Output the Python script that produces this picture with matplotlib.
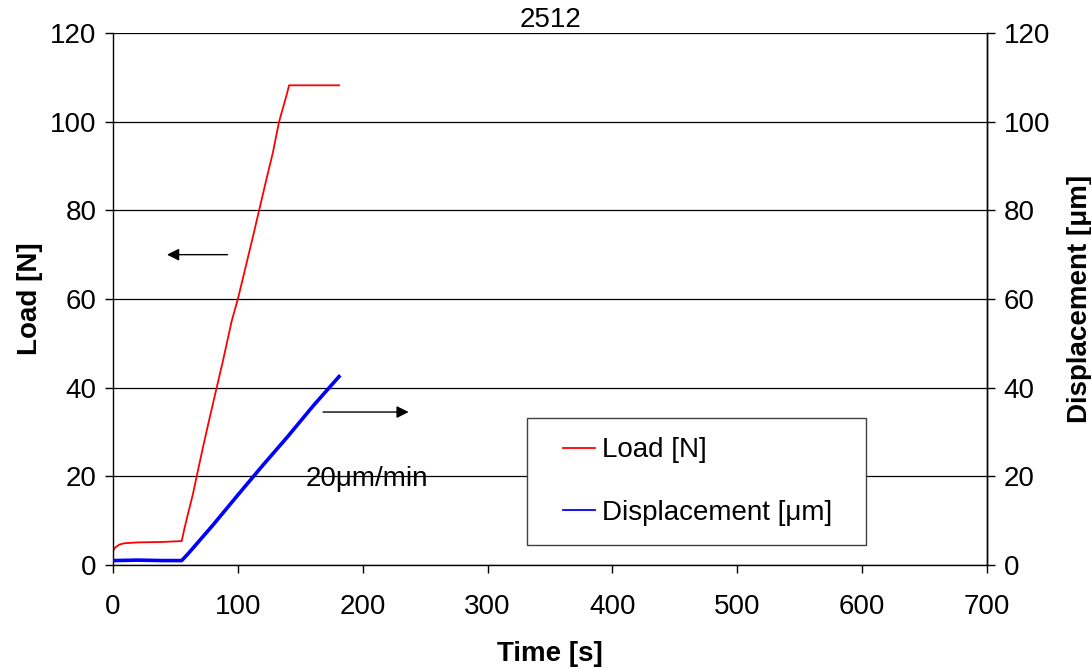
import matplotlib
matplotlib.use("Agg")
import matplotlib.pyplot as plt

plt.rcParams['font.family'] = ['Liberation Sans', 'DejaVu Sans']

# load curve [N] vs time [s]
load_time = [0, 2, 5, 9, 20, 40, 55, 57, 60, 64, 67, 72, 76, 83, 88, 95, 100,
             106, 112, 117, 122, 128, 133, 136, 139, 141, 181]
load_val = [3.2, 4.0, 4.6, 4.9, 5.1, 5.2, 5.4, 8.0, 11.5, 16.0, 20.0, 26.5,
            31.5, 40.0, 46.0, 55.0, 60.0, 67.0, 74.0, 80.0, 86.0, 93.0,
            100.0, 103.0, 106.0, 108.2, 108.2]

# displacement [um] vs time [s]
disp_time = [0, 20, 40, 55, 60, 80, 100, 120, 140, 160, 181]
disp_val = [1.0, 1.1, 1.0, 1.0, 2.5, 9.0, 15.8, 22.5, 29.0, 35.8, 42.5]

title = '2512'

fig = plt.figure(figsize=(10.91, 6.68), dpi=100)
ax = fig.add_axes([0.1036, 0.1542, 0.8011, 0.7964])
ax2 = ax.twinx()

fs = 20

ax.plot(load_time, load_val, color='#ff0000', lw=1.3, label='Load [N]')
ax2.plot(disp_time, disp_val, color='#0000ff', lw=2.6, label='Displacement [μm]')

ax.set_xlim(0, 700)
ax.set_ylim(0, 120)
ax2.set_ylim(0, 120)
ax.set_xticks(range(0, 701, 100))
ax.set_yticks(range(0, 121, 20))
ax2.set_yticks(range(0, 121, 20))

ax.yaxis.grid(True, color='black', lw=0.9)
ax.set_axisbelow(True)

for a in (ax, ax2):
    a.spines['top'].set_visible(False)
    for s in a.spines.values():
        s.set_linewidth(1.0)
    a.tick_params(labelsize=fs, length=6, width=1.0, direction='out', pad=6)
ax2.spines['left'].set_visible(False)
ax2.spines['bottom'].set_visible(False)
ax.tick_params(axis='x', pad=15)

ax.set_xlabel('Time [s]', fontsize=fs, fontweight='bold', labelpad=15)
ax.set_ylabel('Load [N]', fontsize=fs, fontweight='bold', labelpad=5)
ax2.set_ylabel('Displacement [μm]', fontsize=fs, fontweight='bold',
               rotation=90, labelpad=12)
ax.set_title(title, fontsize=fs, pad=2)

# direction arrows and rate note
ax.annotate('', xy=(41, 70), xytext=(94, 70),
            arrowprops=dict(arrowstyle='-|>', color='black', lw=1.0,
                            mutation_scale=18))
ax.annotate('', xy=(239, 34.5), xytext=(166, 34.5),
            arrowprops=dict(arrowstyle='-|>', color='black', lw=1.0,
                            mutation_scale=18))
ax.text(203, 19.5, '20μm/min', fontsize=fs, ha='center', va='center')

h1, l1 = ax.get_legend_handles_labels()
h2, l2 = ax2.get_legend_handles_labels()
leg = ax2.legend(h1 + h2, l1 + l2, loc='lower left', mode='expand',
                 bbox_to_anchor=(0.4737, 0.0376, 0.388, 0.24), borderaxespad=0,
                 fontsize=fs, frameon=True, fancybox=False, framealpha=1,
                 edgecolor='#404040', borderpad=0.7, labelspacing=1.3,
                 handlelength=1.75, handletextpad=0.25)
leg.get_frame().set_linewidth(1.0)
# shorter legend handles, set in from the left edge
for line in leg.get_lines():
    line.set_linewidth(1.3)
    xd = list(line.get_xdata())
    yd = list(line.get_ydata())
    line.set_data([xd[-1] - 23, xd[-1]], [yd[0], yd[0]])

fig.savefig('out.png', dpi=100)
